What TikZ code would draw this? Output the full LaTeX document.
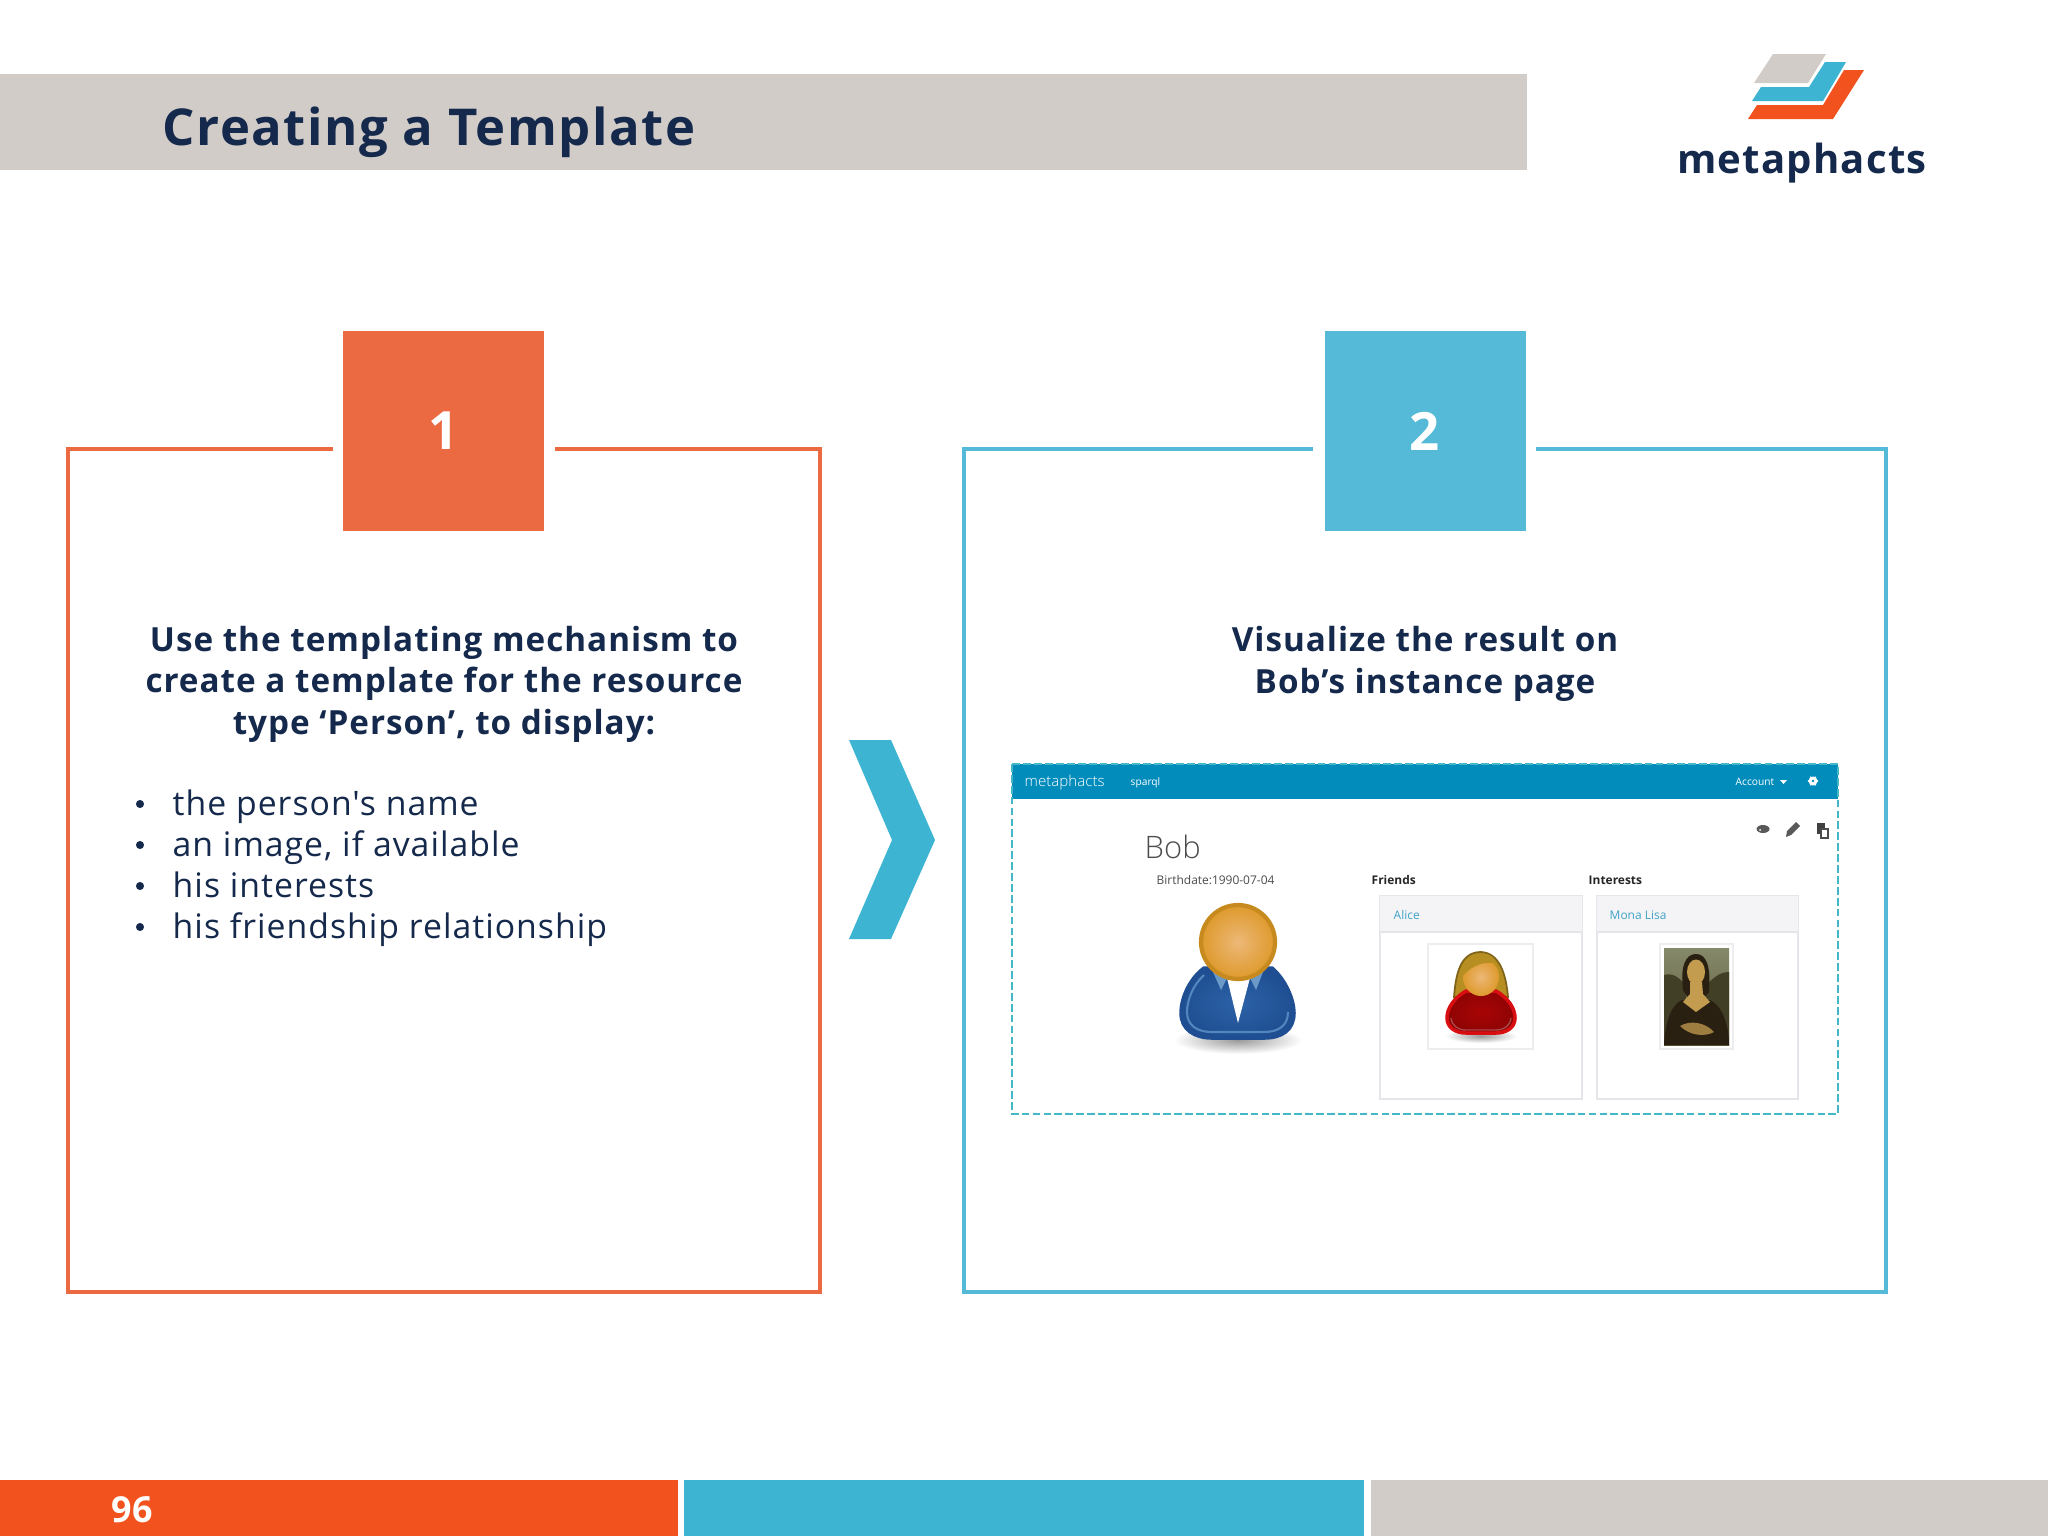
\documentclass[tikz,border=0pt]{standalone}
\usepackage{fontspec}
\setmainfont{Open Sans}
\newfontfamily\headfont[LetterSpace=3]{Open Sans}
\newfontfamily\bodyfont[LetterSpace=3]{Open Sans}
\newfontfamily\lightfont{Open Sans Light}
\definecolor{barGray}{HTML}{D2CCC8}
\definecolor{barOrange}{HTML}{F1521E}
\definecolor{barBlue}{HTML}{3DB5D2}
\definecolor{boxOrange}{HTML}{EC6A41}
\definecolor{boxBlue}{HTML}{54BAD7}
\definecolor{navy}{HTML}{14294B}
\definecolor{band}{HTML}{028CBC}
\definecolor{frameTeal}{HTML}{45B8C8}
\definecolor{cardLine}{HTML}{E6E6EA}
\definecolor{cardHead}{HTML}{F4F4F7}
\definecolor{linkBlue}{HTML}{3FA3C6}
\definecolor{bobBlue}{HTML}{2C62A8}
\definecolor{bobDark}{HTML}{1F4F92}
\definecolor{bobRim}{HTML}{5286BE}
\definecolor{bobCollar}{HTML}{6C9AC8}
\definecolor{headLight}{HTML}{EDB878}
\definecolor{headMid}{HTML}{DE9A2C}
\definecolor{headRim}{HTML}{C78A1E}
\definecolor{hairGold}{HTML}{B68E22}
\definecolor{dressRed}{HTML}{A80404}
\definecolor{dressRim}{HTML}{D80E12}
\definecolor{skyGreen}{HTML}{84896A}
\definecolor{landBrown}{HTML}{5E5A38}
\definecolor{monaDark}{HTML}{2A2012}
\definecolor{monaSkin}{HTML}{C49C50}
\tikzset{
	headtext/.style={navy, inner sep=0pt, font=\headfont\bfseries\fontsize{14.45}{18}\selectfont, anchor=base west},
	introtext/.style={navy, inner sep=0pt, align=center, font=\bodyfont\bfseries\fontsize{9.45}{11.8}\selectfont},
	listtext/.style={navy, inner sep=0pt, anchor=base west, font=\bodyfont\fontsize{9.6}{11.8}\selectfont},
	bullet/.style={circle, fill=navy, inner sep=0pt, minimum size=2.3pt},
	numbertext/.style={white, inner sep=0pt, font=\bfseries\fontsize{15}{18}\selectfont},
	uitext/.style={inner sep=0pt, anchor=base west, font=\fontsize{3.4}{4}\selectfont},
	navtext/.style={uitext, white, font=\fontsize{2.9}{4}\selectfont},
	boldui/.style={uitext, black!85, font=\bfseries\fontsize{3.4}{4}\selectfont},
	card/.style={draw=cardLine, fill=white, line width=0.45},
	photo/.style={draw=cardLine!70, fill=white, line width=0.35}
}
\begin{document}
\begin{tikzpicture}[x=0.01cm, y=-0.01cm]
	
	\useasboundingbox (0, 0) rectangle (2048, 1536);
	\fill[white] (0, 0) rectangle (2048, 1536);
	
	% title and logo
	\fill[barGray] (0, 74) rectangle (1527, 170);
	\node[headtext] (title) at (162, 145) {Creating a Template};
	
	\fill[barGray] (1773, 54) -- (1826, 54) -- (1808, 83) -- (1754, 83) -- cycle;
	\fill[barBlue] (1825, 62) -- (1846, 62) -- (1823, 101) -- (1752, 101) -- (1761, 87) -- (1809, 87) -- cycle;
	\fill[barOrange] (1844, 70) -- (1864, 70) -- (1833, 119) -- (1748, 119) -- (1757, 105) -- (1823, 105) -- cycle;
	\node[navy, inner sep=0pt, font=\headfont\bfseries\fontsize{11.4}{15}\selectfont] (logotext) at (1802, 163) {metaphacts};
	
	% the two boxes
	\draw[boxOrange, line width=1.2] (333, 449) -- (68, 449) -- (68, 1292) -- (820, 1292) -- (820, 449) -- (555, 449);
	\draw[boxBlue, line width=1.2] (1313, 449) -- (964, 449) -- (964, 1292) -- (1886, 1292) -- (1886, 449) -- (1536, 449);
	
	\fill[boxOrange] (343, 331) rectangle (544, 531);
	\node[numbertext] (one) at (444, 431) {1};
	\fill[boxBlue] (1325, 331) rectangle (1526, 531);
	\node[numbertext] (two) at (1425, 431) {2};
	
	\node[introtext] (intro1) at (444, 684) {Use the templating mechanism to\\create a template for the resource\\type ‘Person’, to display:};
	\node[introtext] (intro2) at (1425, 664) {Visualize the result on\\Bob’s instance page};
	
	\foreach \ypos/\itemtext in {815/the person's name, 856/{an image, if available}, 897/his interests, 938/his friendship relationship} {
		\node[bullet] at (140, \ypos-11) {};
		\node[listtext] at (172, \ypos) {\itemtext};
	}
	
	% chevron
	\fill[barBlue] (849, 740) -- (891, 740) -- (935, 840) -- (891, 939) -- (849, 939) -- (892, 840) -- cycle;
	
	% screenshot
	\fill[band] (1012, 764) rectangle (1838, 799);
	\draw[frameTeal, line width=0.6, dash pattern=on 2.2pt off 0.9pt] (1012, 764) rectangle (1838, 1114);
	\node[navtext, font=\lightfont\fontsize{4.3}{5}\selectfont] (brand) at (1024, 786) {metaphacts};
	\node[navtext] (sparql) at (1130, 785) {sparql};
	\node[navtext] (account) at (1735, 785) {Account};
	\fill[white] (1780, 780) -- (1787, 780) -- (1783.5, 784) -- cycle;
	\foreach \tooth in {0, 60, ..., 300} {
		\fill[white] (1813, 781) ++(\tooth:4.3) circle (1);
	}
	\fill[white, even odd rule] (1813, 781) circle (4.5) (1813, 781) circle (1.6);
	
	\fill[black!65] (1763, 829) ellipse (6.5 and 4);
	\fill[white] (1763, 829) ++(-3, 1) circle (1);
	\fill[black!65, line join=round] (1796, 822) -- (1800, 826) -- (1791, 835) -- (1786, 837) -- (1787, 831) -- cycle;
	\fill[black!75] (1817, 823) rectangle (1825, 834);
	\draw[black!70, fill=white, line width=0.3] (1821, 829) rectangle (1828, 838);
	
	\node[uitext, black!70, font=\lightfont\fontsize{8.8}{10}\selectfont] (bob) at (1144, 858) {Bob};
	\node[uitext, black!70] (birthdate) at (1156, 884) {Birthdate:1990-07-04};
	\node[boldui] (friends) at (1371, 884) {Friends};
	\node[boldui] (interests) at (1588, 884) {Interests};
	
	% cards
	\draw[card] (1380, 896) rectangle (1582, 1099);
	\fill[cardHead] (1380, 896) rectangle (1582, 932);
	\draw[cardLine, line width=0.4] (1380, 932) -- (1582, 932);
	\draw[card] (1597, 896) rectangle (1798, 1099);
	\fill[cardHead] (1597, 896) rectangle (1798, 932);
	\draw[cardLine, line width=0.4] (1597, 932) -- (1798, 932);
	\node[uitext, linkBlue] (alice) at (1393, 919) {Alice};
	\node[uitext, linkBlue] (monalisa) at (1609, 919) {Mona Lisa};
	\draw[photo] (1428, 944) rectangle (1533, 1049);
	\draw[photo] (1660, 944) rectangle (1733, 1049);
	
	% Bob's picture
	\shade[inner color=black!40, outer color=white] (1238, 1040) ellipse (64 and 14);
	\draw[draw=bobDark, inner color=bobBlue, outer color=bobDark, line width=1]
		(1204, 968) .. controls (1188, 980) and (1181, 1000) .. (1181, 1013)
		.. controls (1181, 1030) and (1195, 1038) .. (1212, 1038) -- (1264, 1038)
		.. controls (1282, 1038) and (1294, 1030) .. (1294, 1013)
		.. controls (1294, 1000) and (1286, 980) .. (1272, 968) -- cycle;
	\draw[bobRim, line width=0.6]
		(1204, 975) .. controls (1193, 985) and (1187, 1000) .. (1187, 1012)
		.. controls (1187, 1026) and (1198, 1032) .. (1212, 1032) -- (1264, 1032)
		.. controls (1278, 1032) and (1288, 1026) .. (1288, 1012);
	\fill[bobCollar] (1213, 972) -- (1227, 978) -- (1221, 990) -- cycle;
	\fill[bobCollar] (1263, 972) -- (1250, 978) -- (1256, 990) -- cycle;
	\fill[white] (1227, 978) -- (1250, 978) -- (1238, 1023) -- cycle;
	\draw[draw=headRim, line width=1.2, inner color=headLight, outer color=headMid] (1238, 942) circle (37);
	
	% Alice's picture
	\shade[inner color=black!40, outer color=white] (1481, 1036) ellipse (36 and 7);
	\draw[draw=hairGold!70!black, fill=hairGold, line width=0.5]
		(1454, 997) .. controls (1456, 970) and (1462, 952) .. (1481, 952)
		.. controls (1500, 953) and (1506, 975) .. (1508, 997) -- cycle;
	\draw[draw=dressRim, inner color=dressRed, outer color=dressRed!85!black, line width=1]
		(1466, 991) .. controls (1454, 998) and (1447, 1008) .. (1447, 1018)
		.. controls (1447, 1028) and (1456, 1033) .. (1466, 1033) -- (1496, 1033)
		.. controls (1506, 1033) and (1515, 1028) .. (1515, 1018)
		.. controls (1515, 1008) and (1508, 998) .. (1496, 991) -- cycle;
	\draw[dressRim!50!gray, line width=0.4]
		(1451, 1018) .. controls (1452, 1026) and (1458, 1030) .. (1466, 1030) -- (1496, 1030)
		.. controls (1504, 1030) and (1510, 1026) .. (1511, 1018);
	\shade[inner color=headLight, outer color=headMid] (1481, 977) ellipse (18 and 19);
	\fill[hairGold] (1461, 978) .. controls (1461, 960) and (1475, 952) .. (1487, 954)
		.. controls (1495, 957) and (1497, 962) .. (1492, 963) .. controls (1480, 962) and (1470, 967) .. (1461, 978) -- cycle;
	
	% the painting
	\shade[top color=skyGreen, bottom color=landBrown] (1664, 948) rectangle (1729, 1045);
	\begin{scope}
		\clip (1664, 948) rectangle (1729, 1045);
		\fill[landBrown!70!black] (1664, 975) .. controls (1675, 972) and (1680, 980) .. (1686, 985) -- (1686, 1045) -- (1664, 1045) -- cycle;
		\fill[landBrown!70!black] (1729, 972) .. controls (1718, 972) and (1712, 980) .. (1706, 985) -- (1706, 1045) -- (1729, 1045) -- cycle;
		\fill[monaDark] (1682, 1000) .. controls (1670, 1005) and (1665, 1025) .. (1664, 1045) -- (1729, 1045)
			.. controls (1729, 1025) and (1722, 1005) .. (1710, 1000) -- cycle;
		\fill[monaDark] (1683, 990) .. controls (1680, 965) and (1686, 954) .. (1696, 954)
			.. controls (1706, 954) and (1711, 965) .. (1709, 992) -- (1704, 998) -- (1688, 998) -- cycle;
		\fill[monaSkin] (1696, 972) ellipse (9 and 12.5);
		\fill[monaSkin] (1690, 982) -- (1702, 982) -- (1703, 994) -- (1710, 1002) -- (1696, 1012) -- (1683, 1002) -- (1690, 994) -- cycle;
		\fill[monaSkin!80!black] (1680, 1026) .. controls (1690, 1020) and (1705, 1022) .. (1714, 1032)
			.. controls (1705, 1037) and (1690, 1036) .. (1680, 1026) -- cycle;
	\end{scope}
	
	% footer
	\fill[barOrange] (0, 1480) rectangle (678, 1536);
	\fill[barBlue] (684, 1480) rectangle (1364, 1536);
	\fill[barGray] (1371, 1480) rectangle (2048, 1536);
	\node[white, inner sep=0pt, font=\bfseries\fontsize{10.2}{12}\selectfont] (pagenum) at (132, 1510) {96};
	
\end{tikzpicture}
\end{document}
